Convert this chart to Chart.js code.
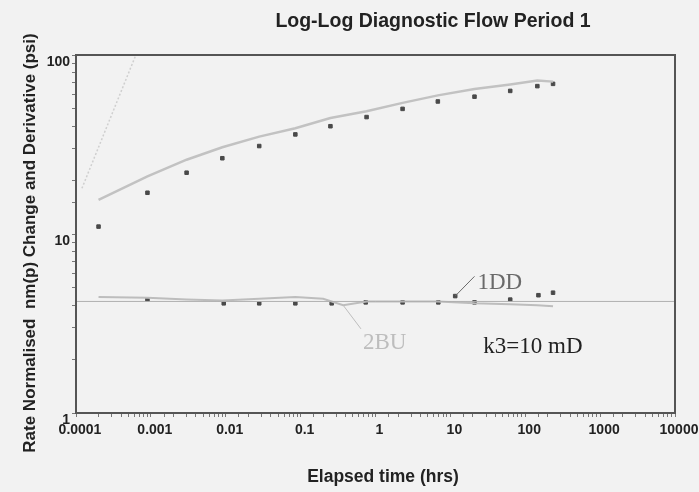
<!DOCTYPE html>
<html lang="en">
  <head>
    <meta charset="UTF-8" />
    <title>Log-Log Diagnostic Flow Period 1</title>
    <style>
      body { margin: 0; background: #f2f2f2; }
    </style>
  </head>
  <body>
    <canvas id="myChart" width="699" height="492"></canvas>
  </body>
  <script src="https://cdn.jsdelivr.net/npm/chart.js"></script>
  <script>
    // elapsed time (hrs) and rate normalised nm(p) change (psi)
    let changeT = [0.0002, 0.0009, 0.003, 0.009, 0.028, 0.085, 0.25, 0.76, 2.3, 6.8, 21, 63, 145, 235];
    let changeP = [11, 17, 22, 26.5, 31, 36, 40, 45, 50, 55, 58.5, 63, 67, 69];

    // model curve for the change
    let modelT = [0.0002, 0.0009, 0.003, 0.009, 0.028, 0.085, 0.25, 0.76, 2.3, 6.8, 21, 63, 145, 235];
    let modelP = [15.5, 21, 26, 30.5, 35, 39, 44.5, 48.5, 54, 59.5, 64.5, 68.5, 72, 71];

    // derivative data points
    let derivT = [0.0009, 0.0094, 0.028, 0.085, 0.26, 0.74, 2.3, 6.9, 11.6, 21, 63, 150, 235];
    let derivP = [4.3, 4.1, 4.1, 4.1, 4.1, 4.15, 4.15, 4.15, 4.5, 4.15, 4.3, 4.55, 4.7];

    // derivative model curve
    let derivModelT = [0.0002, 0.0009, 0.003, 0.009, 0.028, 0.085, 0.2, 0.37, 0.76, 2.3, 6.8, 21, 63, 145, 235];
    let derivModelP = [4.45, 4.4, 4.3, 4.25, 4.35, 4.45, 4.35, 4.0, 4.2, 4.2, 4.2, 4.1, 4.05, 4.0, 3.95];

    // unit slope line and flat radial flow line
    let slopeT = [0.00012, 0.00063];
    let slopeP = [18, 100];
    let flatT = [0.0001, 10000];
    let flatP = [4.2, 4.2];

    // text labels, placed in data units
    let notes = [
      { text: "1DD", x: 23, y: 5.3, color: "#6a6a6a", from: [11.6, 4.5], to: [21, 5.8] },
      { text: "2BU", x: 0.68, y: 2.46, color: "#bdbdbd", from: [0.37, 4.0], to: [0.64, 2.95] },
      { text: "k3=10 mD", x: 27.5, y: 2.34, color: "#222" },
    ];

    function pts(xs, ys) {
      return xs.map((x, i) => ({ x: x, y: ys[i] }));
    }

    function decadeLabel(v) {
      let e = Math.round(Math.log10(v));
      if (Math.abs(Math.log10(v) - e) > 1e-6) return "";
      return e < 0 ? Math.pow(10, e).toFixed(-e) : String(Math.pow(10, e));
    }

    // title, axis titles, frame and notes
    let decorations = {
      id: "decorations",
      afterDraw(chart) {
        let ctx = chart.ctx;
        let a = chart.chartArea;
        let xs = chart.scales.x;
        let ys = chart.scales.y;
        ctx.save();
        ctx.strokeStyle = "#555";
        ctx.lineWidth = 2;
        ctx.strokeRect(a.left, a.top, a.right - a.left, a.bottom - a.top);

        ctx.fillStyle = "#222";
        ctx.textAlign = "center";
        ctx.textBaseline = "middle";
        ctx.font = "bold 19.5px 'Liberation Sans', Arial, sans-serif";
        ctx.fillText("Log-Log Diagnostic Flow Period 1", 433, 22);
        ctx.font = "bold 17.5px 'Liberation Sans', Arial, sans-serif";
        ctx.fillText("Elapsed time (hrs)", 383, 477);
        ctx.translate(30, 243);
        ctx.rotate(-Math.PI / 2);
        ctx.font = "bold 17px 'Liberation Sans', Arial, sans-serif";
        ctx.fillText("Rate Normalised  nm(p) Change and Derivative (psi)", 0, 0);
        ctx.setTransform(1, 0, 0, 1, 0, 0);

        ctx.textAlign = "left";
        notes.forEach((n) => {
          ctx.fillStyle = n.color;
          ctx.font = "23px 'Liberation Serif', 'Times New Roman', serif";
          ctx.fillText(n.text, xs.getPixelForValue(n.x), ys.getPixelForValue(n.y));
          if (n.from) {
            ctx.strokeStyle = n.color;
            ctx.lineWidth = 1;
            ctx.beginPath();
            ctx.moveTo(xs.getPixelForValue(n.from[0]), ys.getPixelForValue(n.from[1]));
            ctx.lineTo(xs.getPixelForValue(n.to[0]), ys.getPixelForValue(n.to[1]));
            ctx.stroke();
          }
        });
        ctx.restore();
      },
    };

    var ctx = document.getElementById("myChart").getContext("2d");
    var chart = new Chart(ctx, {
      type: "scatter",
      data: {
        datasets: [
          {
            label: "Flat",
            data: pts(flatT, flatP),
            showLine: true,
            borderColor: "#b0b0b0",
            borderWidth: 1,
            pointRadius: 0,
          },
          {
            label: "Unit slope",
            data: pts(slopeT, slopeP),
            showLine: true,
            borderColor: "#cfcfcf",
            borderWidth: 1.5,
            borderDash: [2, 2],
            pointRadius: 0,
          },
          {
            label: "Change model",
            data: pts(modelT, modelP),
            showLine: true,
            borderColor: "#c2c2c2",
            borderWidth: 2.5,
            pointRadius: 0,
          },
          {
            label: "Derivative model",
            data: pts(derivModelT, derivModelP),
            showLine: true,
            borderColor: "#bdbdbd",
            borderWidth: 2,
            pointRadius: 0,
          },
          {
            label: "Change",
            data: pts(changeT, changeP),
            pointStyle: "rect",
            pointRadius: 2.5,
            backgroundColor: "#4a4a4a",
            borderColor: "#4a4a4a",
          },
          {
            label: "Derivative",
            data: pts(derivT, derivP),
            pointStyle: "rect",
            pointRadius: 2.5,
            backgroundColor: "#4a4a4a",
            borderColor: "#4a4a4a",
          },
        ],
      },
      options: {
        responsive: false,
        animation: false,
        layout: { padding: { top: 55, right: 24, left: 0, bottom: 0 } },
        plugins: { legend: { display: false }, tooltip: { enabled: false } },
        scales: {
          x: {
            type: "logarithmic",
            min: 0.0001,
            max: 10000,
            afterFit(scale) {
              scale.height = 79;
              scale.paddingLeft = 0;
              scale.paddingRight = 0;
            },
            border: { color: "#555", width: 2 },
            grid: { drawOnChartArea: false, tickLength: 4, color: "#777" },
            ticks: {
              autoSkip: false,
              maxRotation: 0,
              padding: 5,
              labelOffset: 4,
              color: "#222",
              font: { family: "'Liberation Sans', Arial, sans-serif", size: 14, weight: "bold" },
              callback: (v) => decadeLabel(v),
            },
          },
          y: {
            type: "logarithmic",
            min: 1,
            max: 100,
            afterFit(scale) {
              scale.width = 76;
            },
            border: { color: "#555", width: 2 },
            grid: { drawOnChartArea: false, tickLength: 4, color: "#777" },
            ticks: {
              autoSkip: false,
              padding: 2,
              labelOffset: 7,
              color: "#222",
              font: { family: "'Liberation Sans', Arial, sans-serif", size: 14, weight: "bold" },
              callback: (v) => decadeLabel(v),
            },
          },
        },
      },
      plugins: [decorations],
    });
  </script>
</html>
